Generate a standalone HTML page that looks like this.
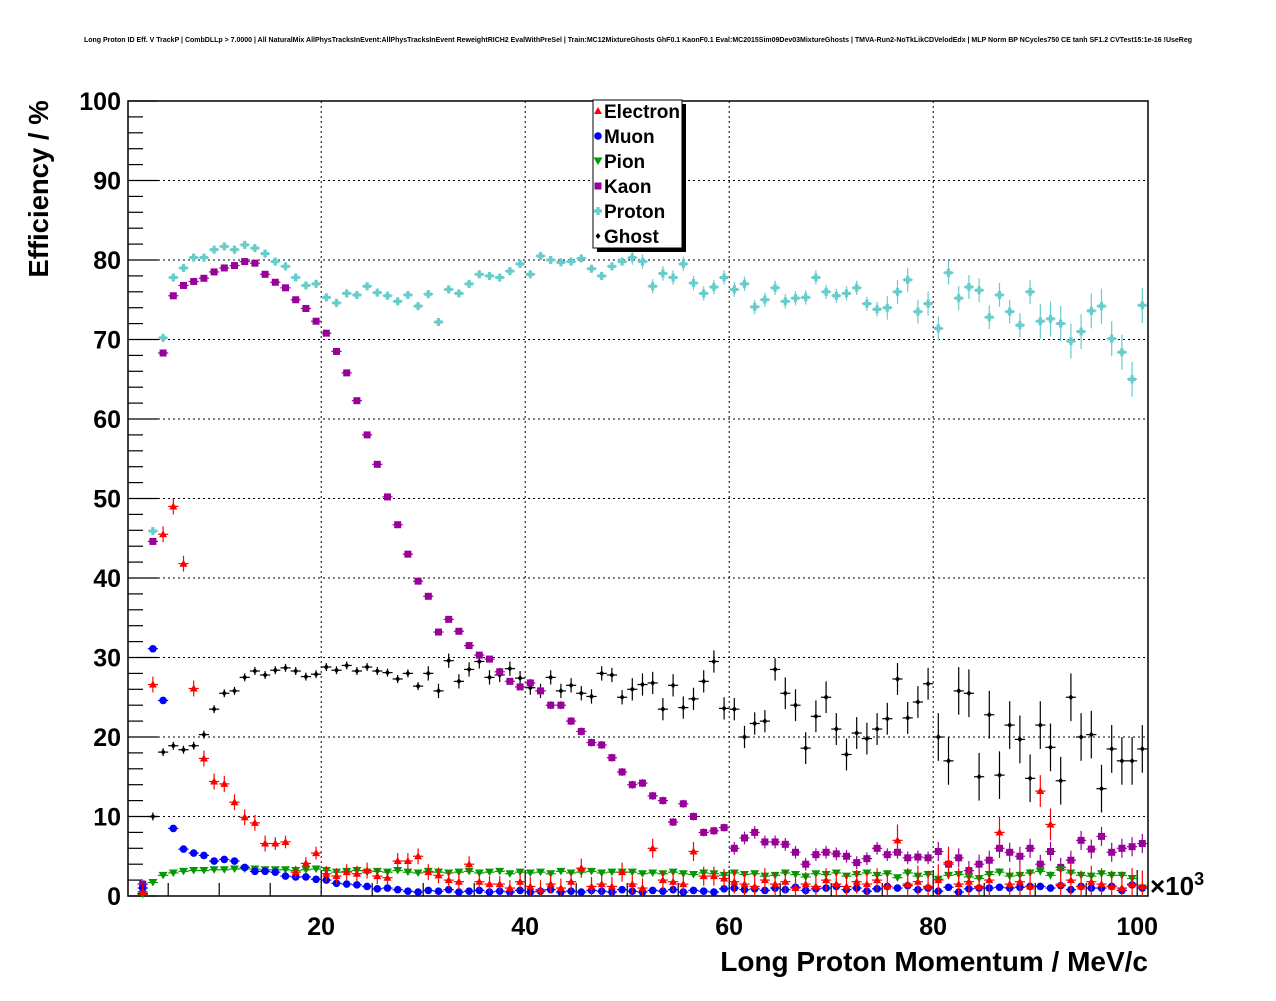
<!DOCTYPE html>
<html><head><meta charset="utf-8"><style>
body{margin:0;background:#fff;width:1276px;height:996px;overflow:hidden;font-family:"Liberation Sans",sans-serif}
svg text{font-family:"Liberation Sans",sans-serif;font-weight:bold}
</style></head><body>
<svg id="c" width="1276" height="996" xmlns="http://www.w3.org/2000/svg">
<text x="638" y="42" font-size="7" text-anchor="middle">Long Proton ID Eff. V TrackP | CombDLLp &gt; 7.0000 | All NaturalMix AllPhysTracksInEvent:AllPhysTracksInEvent ReweightRICH2 EvalWithPreSel | Train:MC12MixtureGhosts GhF0.1 KaonF0.1 Eval:MC2015Sim09Dev03MixtureGhosts | TMVA-Run2-NoTkLikCDVelodEdx | MLP Norm BP NCycles750 CE tanh SF1.2 CVTest15:1e-16 !UseReg</text>
<text transform="translate(48,189) rotate(-90)" font-size="27.5" text-anchor="middle">Efficiency / %</text>
<text x="1148" y="971" font-size="28" text-anchor="end">Long Proton Momentum / MeV/c</text>
<text x="1150" y="895" font-size="26">×10<tspan dy="-10" font-size="18">3</tspan></text>
</svg>
<script>
const binCenters=[2.5,3.5,4.5,5.5,6.5,7.5,8.5,9.5,10.5,11.5,12.5,13.5,14.5,15.5,16.5,17.5,18.5,19.5,20.5,21.5,22.5,23.5,24.5,25.5,26.5,27.5,28.5,29.5,30.5,31.5,32.5,33.5,34.5,35.5,36.5,37.5,38.5,39.5,40.5,41.5,42.5,43.5,44.5,45.5,46.5,47.5,48.5,49.5,50.5,51.5,52.5,53.5,54.5,55.5,56.5,57.5,58.5,59.5,60.5,61.5,62.5,63.5,64.5,65.5,66.5,67.5,68.5,69.5,70.5,71.5,72.5,73.5,74.5,75.5,76.5,77.5,78.5,79.5,80.5,81.5,82.5,83.5,84.5,85.5,86.5,87.5,88.5,89.5,90.5,91.5,92.5,93.5,94.5,95.5,96.5,97.5,98.5,99.5,100.5];
const protonVals=[1.5,45.9,70.2,77.8,79.0,80.3,80.3,81.3,81.7,81.3,81.9,81.5,80.8,79.8,79.2,77.8,76.8,77.0,75.3,74.6,75.8,75.6,76.7,75.9,75.5,74.8,75.6,74.2,75.7,72.2,76.3,75.8,77.0,78.2,78.0,77.8,78.6,79.5,78.2,80.5,80.0,79.7,79.8,80.2,78.9,78.0,79.2,79.8,80.3,79.8,76.7,78.3,77.8,79.5,77.1,75.8,76.6,77.8,76.3,77.0,74.1,75.0,76.5,74.8,75.2,75.3,77.8,76.0,75.5,75.8,76.5,74.5,73.8,74.0,76.0,77.5,73.5,74.5,71.4,78.4,75.2,76.6,76.2,72.8,75.6,73.5,71.8,76.0,72.3,72.6,72.0,69.8,71.0,73.6,74.2,70.1,68.4,65.0,74.3];
const kaonVals=[1.5,44.6,68.3,75.5,76.8,77.3,77.7,78.5,79.0,79.3,79.8,79.6,78.2,77.2,76.5,75.0,73.9,72.3,70.8,68.5,65.8,62.3,58.0,54.3,50.2,46.7,43.0,39.6,37.7,33.2,34.8,33.3,31.5,30.3,29.8,28.2,27.0,26.3,26.8,25.8,24.0,24.0,22.0,20.7,19.3,19.0,17.4,15.6,14.0,14.2,12.6,12.0,9.3,11.6,10.0,8.0,8.2,8.6,6.0,7.3,8.0,6.8,6.8,6.5,5.5,4.0,5.2,5.5,5.3,5.0,4.2,4.7,6.0,5.2,5.5,4.8,4.9,4.8,5.6,4.0,4.8,3.2,4.0,4.5,6.0,5.5,5.0,6.0,4.0,5.6,3.6,4.5,7.0,5.9,7.5,5.5,6.0,6.2,6.6];
const ghostVals=[0.3,10.0,18.1,18.9,18.4,18.9,20.3,23.5,25.5,25.8,27.5,28.3,27.8,28.4,28.7,28.3,27.6,27.9,28.8,28.4,29.0,28.3,28.8,28.3,28.1,27.3,28.0,26.4,28.0,25.8,29.6,27.0,28.5,29.5,27.5,27.8,28.6,27.4,26.2,25.8,27.5,25.8,26.5,25.5,25.1,28.0,27.8,25.0,26.0,26.6,26.8,23.5,26.5,23.7,24.8,27.0,29.5,23.6,23.5,20.0,21.7,22.0,28.5,25.5,24.0,18.6,22.6,25.0,21.0,17.8,20.5,19.8,21.0,22.3,27.3,22.4,24.4,26.7,20.0,17.0,25.8,25.5,15.0,22.8,15.2,21.5,19.7,14.8,21.5,18.7,14.5,25.0,20.0,20.3,13.5,18.5,17.0,17.0,18.5];
const electronVals=[0.5,26.6,45.5,49.0,41.8,26.1,17.3,14.4,14.1,11.8,9.9,9.2,6.6,6.6,6.8,3.0,4.1,5.4,2.8,2.5,3.0,2.8,3.2,2.5,2.3,4.4,4.4,5.0,3.0,2.6,2.0,1.8,4.0,1.8,1.5,1.5,1.0,1.8,1.2,0.8,1.5,1.0,1.8,3.5,1.2,1.5,1.2,3.0,1.5,1.0,6.0,2.0,1.8,1.5,5.6,2.5,2.5,2.2,1.8,1.5,1.2,2.0,1.5,1.8,1.0,1.5,1.2,2.0,1.5,1.2,1.8,1.5,2.0,1.2,7.0,1.5,1.8,1.2,2.0,4.2,1.5,1.8,1.2,2.0,8.0,1.5,1.8,1.2,13.2,9.0,1.5,2.0,1.2,1.8,1.5,1.2,1.0,1.5,1.2];
const muonVals=[1.0,31.1,24.6,8.5,5.9,5.4,5.1,4.4,4.6,4.4,3.6,3.1,3.1,3.0,2.5,2.4,2.4,2.1,2.0,1.6,1.5,1.4,1.2,0.9,1.0,0.8,0.6,0.5,0.7,0.6,0.8,0.5,0.6,0.7,0.5,0.6,0.5,0.7,0.5,0.6,0.8,0.5,0.6,0.5,0.7,0.6,0.5,0.8,0.6,0.5,0.7,0.6,0.8,0.5,0.7,0.6,0.5,0.9,1.0,0.8,0.9,0.7,1.0,0.8,1.1,0.7,0.9,1.0,1.2,0.8,1.0,0.6,0.9,1.2,1.0,1.3,0.8,1.0,0.6,1.1,0.5,0.9,1.0,1.0,1.1,1.0,1.1,1.2,1.2,1.0,1.3,0.8,1.2,1.0,1.0,1.2,0.7,1.4,1.0];
const pionVals=[0.2,1.7,2.6,2.9,3.1,3.2,3.2,3.3,3.3,3.4,3.4,3.4,3.3,3.3,3.3,3.2,3.3,3.4,3.2,3.0,3.1,3.2,3.0,3.1,3.0,3.2,3.0,2.9,3.1,3.0,2.9,3.0,3.1,2.9,3.0,3.1,2.8,3.0,2.9,3.0,2.8,3.1,2.9,3.0,3.1,2.9,3.0,3.0,3.0,2.8,2.9,2.8,3.0,2.8,2.7,2.9,2.8,2.6,2.9,2.7,2.8,2.5,2.6,2.9,2.7,2.4,2.8,2.7,2.9,2.5,2.7,2.9,2.6,2.8,2.3,2.9,2.5,2.7,2.1,2.6,2.7,2.4,2.2,2.7,3.0,2.5,2.6,2.9,3.1,2.6,3.3,2.9,2.6,2.5,2.8,2.6,2.6,2.2,1.0];
const xTicks=[20,40,60,80,100];
const yTicks=[0,10,20,30,40,50,60,70,80,90,100];
// error scale per series: [fromCenter, errorPercent]
const errProton=[[2,0.5],[50,0.9],[75,1.5],[90,2.2]];
const errKaon=[[2,0.4],[40,0.5],[60,0.8],[80,1.2]];
const errGhost=[[2,0.5],[30,0.9],[50,1.4],[65,2.0],[80,3.0]];
const errElectron=[[2,1.0],[15,0.8],[20,1.0],[40,1.2],[60,1.5],[75,2.0]];
const errMuon=[[2,0.2],[40,0.3],[80,0.4]];
const errPion=[[2,0.2],[40,0.3],[80,0.5]];

const NS='http://www.w3.org/2000/svg';
const svg=document.getElementById('c');
const L=128,R=1148,T=101,B=896;
function X(v){return 117.2+10.2*v;}
function Y(v){return B-(v/100)*(B-T);}
function mk(tag,attrs,parent){const e=document.createElementNS(NS,tag);for(const k in attrs)e.setAttribute(k,attrs[k]);(parent||svg).appendChild(e);return e;}
function errOf(tab,c){let e=tab[0][1];for(const t of tab){if(c>=t[0])e=t[1];}return e;}

const grid=mk('g',{});


xTicks.forEach(t=>{if(t<100)mk('line',{x1:X(t),x2:X(t),y1:T,y2:B,stroke:'#000','stroke-width':1,'stroke-dasharray':'2,3'},grid);});
yTicks.forEach(t=>{if(t>0&&t<100)mk('line',{x1:L,x2:R,y1:Y(t),y2:Y(t),stroke:'#000','stroke-width':1,'stroke-dasharray':'2,3'},grid);});

const frame=mk('rect',{x:L,y:T,width:R-L,height:B-T,fill:'none',stroke:'#000','stroke-width':1.5});



const yax=mk('g',{});


for(let v=0;v<=100;v+=2){const maj=v%10===0;mk('line',{x1:L,x2:L+(maj?30:15),y1:Y(v),y2:Y(v),stroke:'#000','stroke-width':1.2},yax);}
yTicks.forEach(t=>{const tx=mk('text',{x:121,y:Y(t)+9,'font-size':25,'text-anchor':'end'},yax);tx.textContent=t;

});

const xax=mk('g',{});


for(let v=5;v<=100;v+=5){const maj=v%20===0;mk('line',{x1:X(v),x2:X(v),y1:B,y2:B-(maj?26:13),stroke:'#000','stroke-width':1.2},xax);}
xTicks.forEach(t=>{const tx=mk('text',{x:X(t),y:935,'font-size':25,'text-anchor':'middle'},xax);tx.textContent=t;

});

function marker(g,shape,color,x,y){
  if(shape==='tri')mk('polygon',{points:`${x},${y-4} ${x-4},${y+3} ${x+4},${y+3}`,fill:color},g);
  else if(shape==='itri')mk('polygon',{points:`${x},${y+4} ${x-4.5},${y-3.5} ${x+4.5},${y-3.5}`,fill:color},g);
  else if(shape==='circ')mk('circle',{cx:x,cy:y,r:3.8,fill:color},g);
  else if(shape==='sq')mk('rect',{x:x-3.5,y:y-3.5,width:7,height:7,fill:color},g);
  else if(shape==='cross'){mk('rect',{x:x-4,y:y-1.6,width:8,height:3.2,fill:color},g);mk('rect',{x:x-1.6,y:y-4,width:3.2,height:8,fill:color},g);}
  else if(shape==='dia')mk('polygon',{points:`${x},${y-3} ${x-2.5},${y} ${x},${y+3} ${x+2.5},${y}`,fill:color},g);
}
function series(name,vals,errs,shape,color){
  const g=mk('g',{});
  
  
  vals.forEach((v,i)=>{
    const c=binCenters[i],x=X(c),y=Y(v),e=errOf(errs,c);
    mk('line',{x1:X(c-0.5),x2:X(c+0.5),y1:y,y2:y,stroke:color,'stroke-width':1.2},g);
    mk('line',{x1:x,x2:x,y1:Y(Math.max(0,v-e)),y2:Y(v+e),stroke:color,'stroke-width':1.2},g);
    marker(g,shape,color,x,y);
  });
}
series('ghost',ghostVals,errGhost,'dia','#000');
series('proton',protonVals,errProton,'cross','#66cccc');
series('kaon',kaonVals,errKaon,'sq','#990099');
series('pion',pionVals,errPion,'itri','#009900');
series('muon',muonVals,errMuon,'circ','#0000ff');
series('electron',electronVals,errElectron,'tri','#ff0000');

const lg=mk('g',{});


mk('rect',{x:597,y:104,width:89,height:148,fill:'#000'},lg);
mk('rect',{x:593,y:100,width:89,height:148,fill:'#fff',stroke:'#000','stroke-width':1},lg);
const legNames=['Electron','Muon','Pion','Kaon','Proton','Ghost'];
const legShapes=['tri','circ','itri','sq','cross','dia'];
const legColors=['#ff0000','#0000ff','#009900','#990099','#66cccc','#000'];
legNames.forEach((n,i)=>{
  const y=111+i*25;
  const e=mk('g',{},lg);
  
  
  marker(e,legShapes[i],legColors[i],598,y);
  const t=mk('text',{x:604,y:y+7,'font-size':19},e);t.textContent=n;
});
</script>
</body></html>
